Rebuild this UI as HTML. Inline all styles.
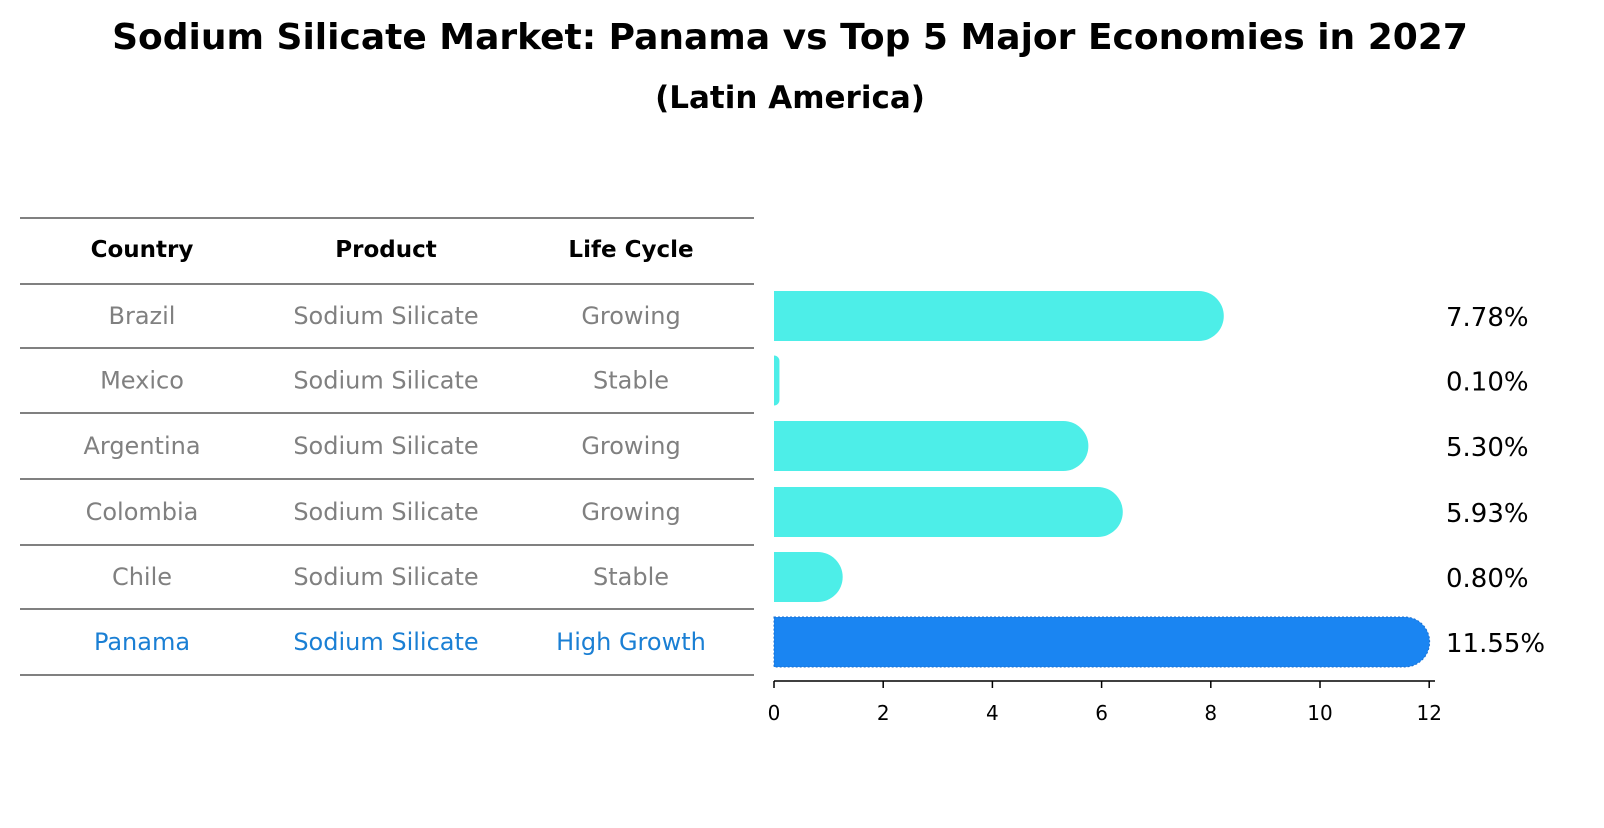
<!DOCTYPE html>
<html><head><meta charset="utf-8"><style>
body{margin:0;background:#fff;font-family:"Liberation Sans","DejaVu Sans",sans-serif;}
svg text{font-family:"DejaVu Sans","Liberation Sans",sans-serif;}
</style></head><body>
<svg id="c" width="1604" height="823" xmlns="http://www.w3.org/2000/svg">
<text x="790" y="49" text-anchor="middle" font-size="36" font-weight="bold">Sodium Silicate Market: Panama vs Top 5 Major Economies in 2027</text>
<text x="790" y="108" text-anchor="middle" font-size="31" font-weight="bold">(Latin America)</text>
<g id="table"></g>
<g id="bars"></g>
</svg>
<script>
const countries=["Brazil","Mexico","Argentina","Colombia","Chile","Panama"];
const products=["Sodium Silicate","Sodium Silicate","Sodium Silicate","Sodium Silicate","Sodium Silicate","Sodium Silicate"];
const cycles=["Growing","Stable","Growing","Growing","Stable","High Growth"];
const values=[7.78,0.10,5.30,5.93,0.80,11.55];
const ticks=[0,2,4,6,8,10,12];
const NS="http://www.w3.org/2000/svg";
function mk(t,a,p){const e=document.createElementNS(NS,t);for(const k in a)e.setAttribute(k,a[k]);p.appendChild(e);return e;}
const tb=document.getElementById('table'),bg=document.getElementById('bars');
const lineYs=[218,284,348,413,479,545,609,675];
lineYs.forEach((y,i)=>{const l=mk('line',{x1:20,x2:754,y1:y,y2:y,stroke:'#000','stroke-width':1},tb);

});
const colX=[142,386,631];
["Country","Product","Life Cycle"].forEach((h,j)=>{const t=mk('text',{x:colX[j],y:257,'text-anchor':'middle','font-size':23,'font-weight':'bold'},tb);t.textContent=h;

});
const rowY=i=>(lineYs[i+1]+lineYs[i+2])/2;
const x=v=>774+v*54.6;
countries.forEach((c,i)=>{
 const col=i===countries.length-1?'#1a7fd4':'#808080';
 [c,products[i],cycles[i]].forEach((s,j)=>{const t=mk('text',{x:colX[j],y:rowY(i)+8,'text-anchor':'middle','font-size':24,fill:col},tb);t.textContent=s;
 
 });
 const cy=rowY(i), h=50, x0=x(0), xe=x(values[i]);
 const cap=values[i]>0.3?25:0, r=Math.min(25,xe-x0+cap);
 const xr=xe+cap, top=cy-h/2, bot=cy+h/2;
 const d=`M${x0},${top} H${xr-r} A${r},${r} 0 0 1 ${xr},${top+r} V${bot-r} A${r},${r} 0 0 1 ${xr-r},${bot} H${x0} Z`;
 const isP=i===countries.length-1;
 const p=mk('path',{d:d,fill:isP?'#1a85f2':'#4deee8',stroke:isP?'#1a6fd0':'none','stroke-dasharray':isP?'2,2':'none'},bg);
 
 
 const t=mk('text',{x:1446,y:cy+10,'font-size':26},bg);t.textContent=values[i].toFixed(2)+'%';
 
 
});
const ax=mk('line',{x1:774,x2:1435,y1:681,y2:681,stroke:'#000','stroke-width':1.5},bg);


ticks.forEach(v=>{const l=mk('line',{x1:x(v),x2:x(v),y1:681,y2:688,stroke:'#000','stroke-width':1.5},bg);


const t=mk('text',{x:x(v),y:720,'text-anchor':'middle','font-size':20},bg);t.textContent=v;

});
</script>
</body></html>
